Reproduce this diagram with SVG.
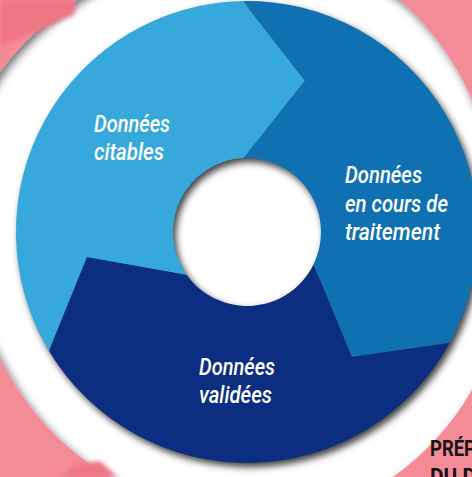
<svg xmlns="http://www.w3.org/2000/svg" width="472" height="477" viewBox="0 0 472 477">
  <style>
    .lbl { font-family: Roboto, "Open Sans", "DejaVu Sans", sans-serif; font-style: italic; font-weight: 500; font-size: 23px; fill: #ffffff; }
    .head { font-family: Roboto, "Liberation Sans", sans-serif; font-weight: 700; font-size: 22px; fill: #141414; }
  </style>
  <defs>
    <filter id="sh" x="-20%" y="-20%" width="140%" height="140%">
      <feGaussianBlur in="SourceAlpha" stdDeviation="3.5"/>
      <feOffset dx="3" dy="4" result="b"/>
      <feFlood flood-color="#000" flood-opacity="0.75"/>
      <feComposite in2="b" operator="in"/>
    </filter>
    <filter id="psh" x="-20%" y="-20%" width="140%" height="140%">
      <feDropShadow dx="3" dy="4" stdDeviation="4" flood-color="#000" flood-opacity="0.55"/>
    </filter>
    <filter id="soft"><feGaussianBlur stdDeviation="2"/></filter>
  </defs>

  <!-- white base -->
  <rect x="0" y="0" width="472" height="477" fill="#ffffff"/>

  <!-- pink frame with ring opening -->
  <g id="frame" filter="url(#psh)">
    <path fill="#F48C98" fill-rule="evenodd" d="M-20,-20 H492 V497 H-20 Z M0,72 A280,280 0 0 1 77,0 A280,280 0 0 1 400,0 A280,280 0 0 1 472,100 A280,280 0 0 1 472,390 A280,280 0 0 1 393,477 A280,280 0 0 1 110,477 A280,280 0 0 1 0,358 A280,280 0 0 1 0,72 Z"/>
  </g>
  <path d="M0,0 H75 V14 L40,30 L0,48 Z" fill="#EF7884" filter="url(#soft)"/>
  <path d="M62,477 L72,466 L100,461 L118,477 Z" fill="#EF7783" filter="url(#soft)"/>

  <!-- shadow of the disc -->
  <path fill="#000" fill-rule="evenodd" filter="url(#sh)" d="M16,232 a231,231 0 1,0 462,0 a231,231 0 1,0 -462,0 Z M173,232 a74,74 0 1,0 148,0 a74,74 0 1,0 -148,0 Z"/>

  <g id="connectors"/>

  <g id="node-citables">
    <path fill="#36A8DB" d="M49.0,351.0 A231,231 0 0 1 243.0,1.0 L305.1,80.8 L243.8,158.1 A74,74 0 0 0 186.8,275.0 L87.0,257.3 Z"/>
    <text class="lbl" x="94" y="132" textLength="76" lengthAdjust="spacingAndGlyphs">Données</text>
    <text class="lbl" x="94" y="160" textLength="70" lengthAdjust="spacingAndGlyphs">citables</text>
  </g>

  <g id="node-traitement">
    <path fill="#0F70B2" d="M243.0,1.0 A231,231 0 0 1 449.6,342.9 L351.8,356.9 L313.5,264.4 A74,74 0 0 0 243.8,158.1 L305.1,80.8 Z"/>
    <text class="lbl" x="345" y="183" textLength="77" lengthAdjust="spacingAndGlyphs">Données</text>
    <text class="lbl" x="345" y="212" textLength="103" lengthAdjust="spacingAndGlyphs">en cours de</text>
    <text class="lbl" x="345" y="240" textLength="95" lengthAdjust="spacingAndGlyphs">traitement</text>
  </g>

  <g id="node-validees">
    <path fill="#0C2E80" d="M449.6,342.9 A231,231 0 0 1 49.0,351.0 L87.0,257.3 L186.8,275.0 A74,74 0 0 0 313.5,264.4 L351.8,356.9 Z"/>
    <text class="lbl" x="199" y="375" textLength="76" lengthAdjust="spacingAndGlyphs">Données</text>
    <text class="lbl" x="199" y="403" textLength="73" lengthAdjust="spacingAndGlyphs">validées</text>
  </g>

  <g id="title">
    <text class="head" x="430" y="456" textLength="46" lengthAdjust="spacingAndGlyphs">PRÉP</text>
    <text class="head" x="430" y="484" textLength="46" lengthAdjust="spacingAndGlyphs">DU D</text>
  </g>
</svg>
